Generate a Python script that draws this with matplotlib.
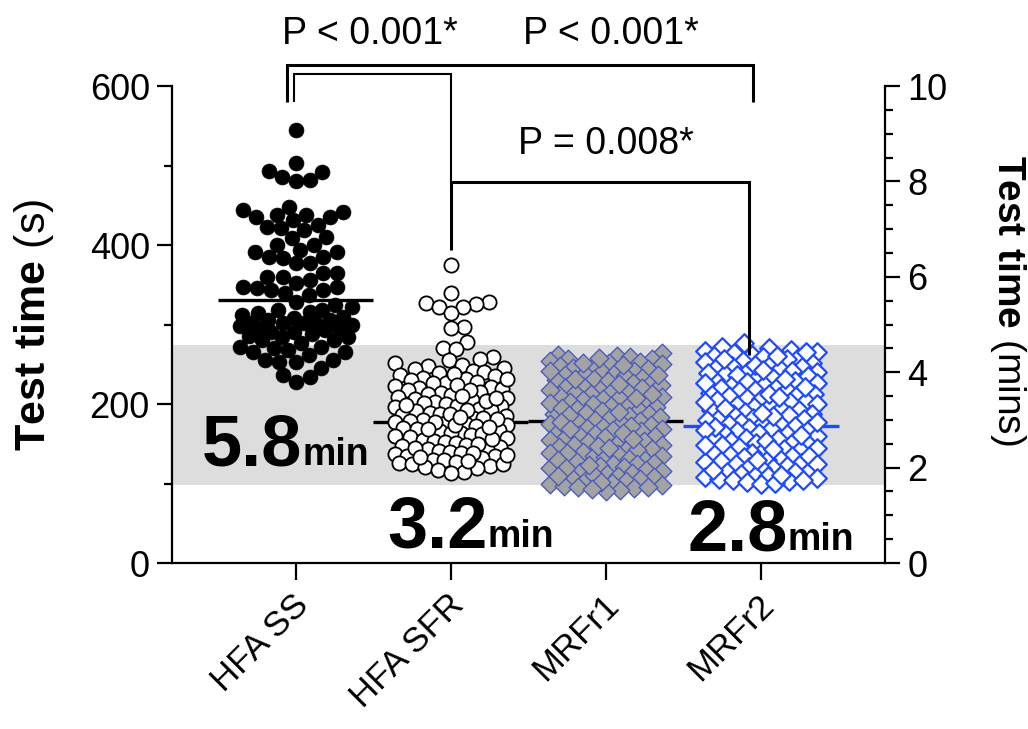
import numpy as np
import matplotlib.pyplot as plt
from matplotlib.transforms import ScaledTranslation

plt.rcParams['font.family'] = ['Liberation Sans', 'DejaVu Sans']
plt.rcParams['mathtext.fontset'] = 'custom'
plt.rcParams['mathtext.bf'] = 'Liberation Sans:bold'
plt.rcParams['mathtext.rm'] = 'Liberation Sans'

# Test times in seconds
GROUPS = ['HFA SS', 'HFA SFR', 'MRFr1', 'MRFr2']

HFA_SS = [545, 503, 493, 492, 486, 482, 480,
          448, 444, 442, 438, 438, 435, 435, 431, 425, 423, 421, 419, 410, 409, 400, 400,
          394, 391, 391, 385, 385, 384, 377, 377, 365, 365, 360, 360, 356, 352, 347, 347,
          346, 343, 343, 340, 337, 328, 325, 322, 318, 318, 316, 314, 312, 309, 308, 306,
          306, 302, 302, 302, 302, 300, 298, 296, 295, 293, 291, 291, 288, 286, 284, 284,
          281, 280, 277, 272, 272, 270, 268, 265, 265, 262, 255, 255, 253, 253, 245, 236,
          234, 228]

HFA_SFR = [375, 340, 328, 327, 326, 322, 322, 314, 297, 296, 278, 270, 269, 259, 256, 255,
           251, 249, 248, 245, 244, 242, 240, 239, 236, 235, 233, 232, 230, 228, 227, 226,
           223, 221, 220, 219, 217, 215, 214, 212, 211, 209, 207, 206, 205, 203, 201, 200,
           198, 197, 196, 194, 192, 191, 189, 188, 186, 185, 183, 182, 180, 179, 178, 176,
           175, 173, 172, 170, 169, 167, 166, 164, 163, 161, 160, 158, 157, 155, 154, 152,
           151, 149, 147, 146, 144, 143, 141, 140, 138, 137, 135, 134, 132, 130, 129, 127,
           126, 124, 122, 121, 119, 117, 115, 113,
           238, 231, 224, 218, 210, 204, 199, 193, 187, 181, 177, 174, 168, 162, 156, 150,
           145, 139, 133, 128, 125, 136, 171, 184, 208]

MRFR1 = [264, 262, 260, 259, 257, 256, 254, 253, 251, 250, 248, 246, 245, 244, 242, 240,
         239, 238, 236, 235, 233, 231, 230, 229, 227, 226, 224, 222, 221, 220, 218, 216,
         215, 214, 212, 211, 209, 207, 206, 205, 203, 202, 200, 198, 197, 196, 194, 193,
         191, 189, 188, 187, 185, 184, 182, 180, 179, 178, 176, 175, 173, 171, 170, 169,
         167, 166, 164, 162, 161, 160, 158, 157, 155, 153, 152, 151, 149, 148, 146, 144,
         143, 142, 140, 139, 137, 135, 134, 133, 131, 130, 128, 126, 125, 124, 122, 121,
         119, 117, 116, 115, 113, 112, 110, 108, 107, 106, 104, 103, 101, 99, 98, 97, 95,
         94, 92, 90,
         258, 249, 241, 232, 225, 217, 208, 201, 195, 186, 177, 172, 163, 156, 147, 138,
         129, 120, 111, 102, 96, 252, 237, 213, 190, 168, 145, 123, 109, 93]

MRFR2 = [277, 272, 270, 268, 267, 265, 264, 262, 260, 259, 258, 256, 254, 253, 252, 250,
         248, 247, 246, 244, 242, 241, 240, 238, 236, 235, 234, 232, 230, 229, 228, 226,
         224, 223, 222, 220, 218, 217, 216, 214, 212, 211, 210, 208, 206, 205, 204, 202,
         200, 199, 198, 196, 194, 193, 192, 190, 188, 187, 186, 184, 182, 181, 180, 178,
         176, 175, 174, 172, 170, 169, 168, 166, 164, 163, 162, 160, 158, 157, 156, 154,
         152, 151, 150, 148, 146, 145, 144, 142, 140, 139, 138, 136, 134, 133, 132, 130,
         128, 127, 126, 124, 122, 121, 120, 118, 116, 115, 114, 112, 110, 109, 108, 106,
         104, 103, 102, 100,
         266, 257, 249, 239, 231, 221, 213, 203, 195, 185, 177, 171, 161, 153, 143, 135,
         125, 117, 107, 101, 261, 243, 227, 209, 189, 167, 149, 129, 111, 105]

MEDIANS = [331, 177, 179, 172]
REFERENCE_BAND = (98, 274)
SUMMARY_MIN = ['5.8', '3.2', '2.8']
P_TEXTS = ['P < 0.001*', 'P < 0.001*', 'P = 0.008*']

BLUE = '#1f4bff'


def swarm(ax, center, values, diam, half_width):
    # greedy beeswarm in pixel space: closest free slot to the centre line
    pts = ax.transData.transform(np.column_stack([np.full(len(values), center), values]))
    cx = pts[0, 0]
    ys = pts[:, 1]
    steps = np.arange(1.0, half_width + 0.5, 1.0)
    cands = np.concatenate([[0.0], np.ravel(np.column_stack([steps, -steps]))])
    xs = np.zeros(len(values))
    px, py = [], []
    for i in np.argsort(ys, kind='stable'):
        if px:
            d = np.hypot(cands[:, None] - np.array(px)[None, :],
                         ys[i] - np.array(py)[None, :]).min(axis=1)
            ok = np.nonzero(d >= diam)[0]
            j = ok[0] if len(ok) else np.argmax(d)
        else:
            j = 0
        xs[i] = cands[j]
        px.append(cands[j])
        py.append(ys[i])
    return ax.transData.inverted().transform(np.column_stack([cx + xs, ys]))


fig = plt.figure(figsize=(10.28, 7.29), dpi=100)
ax = fig.add_axes([0.1673, 0.2277, 0.6936, 0.6543])
ax.set_xlim(-0.8, 3.8)
ax.set_ylim(0, 600)

ax.axhspan(REFERENCE_BAND[0], REFERENCE_BAND[1], color='#dddddd', lw=0, zorder=0)

styles = [
    dict(marker='o', s=115, facecolor='black', edgecolor='black', linewidths=0.5),
    dict(marker='o', s=105, facecolor='white', edgecolor='black', linewidths=1.3),
    dict(marker='D', s=90, facecolor='#a3a3a3', edgecolor='#4a5cc0', linewidths=1.0),
    dict(marker='D', s=90, facecolor='white', edgecolor=BLUE, linewidths=1.6),
]
diams = [14, 13, 14, 14]
line_colors = ['black', 'black', 'black', BLUE]

for i, vals in enumerate([HFA_SS, HFA_SFR, MRFR1, MRFR2]):
    ax.plot([i - 0.5, i + 0.5], [MEDIANS[i]] * 2, color=line_colors[i], lw=2.4, zorder=1,
            solid_capstyle='butt')
    xy = swarm(ax, i, vals, diams[i], 56)
    ax.scatter(xy[:, 0], xy[:, 1], zorder=2, **styles[i])

# significance brackets
kw = dict(color='black', clip_on=False, solid_capstyle='butt', solid_joinstyle='miter')
ax.plot([-0.06, -0.06, 2.95, 2.95], [580, 626, 626, 580], lw=2.2, **kw)
ax.plot([-0.01, -0.01, 1.0, 1.0], [580, 615, 615, 479], lw=1.5, **kw)
ax.plot([1.0, 1.0, 2.92, 2.92], [394, 479, 479, 262], lw=2.2, **kw)
ax.text(0.477, 665, P_TEXTS[0], ha='center', va='center', fontsize=27)
ax.text(2.03, 665, P_TEXTS[1], ha='center', va='center', fontsize=27)
ax.text(2.0, 527, P_TEXTS[2], ha='center', va='center', fontsize=27)

# summary values in minutes
for (x, y), txt in zip([(-0.606, 123), (0.587, 20), (2.523, 16)], SUMMARY_MIN):
    t = ax.text(x, y, txt, fontsize=52, fontweight='bold', ha='left', va='baseline')
    ax.annotate('min', xy=(1, y), xycoords=(t, 'data'), fontsize=27, fontweight='bold',
                ha='left', va='baseline')

# axes styling
for side in ['top', 'right']:
    ax.spines[side].set_visible(False)
for side in ['left', 'bottom']:
    ax.spines[side].set_linewidth(1.6)
ax.set_yticks([0, 200, 400, 600])
ax.set_yticks([100, 300, 500], minor=True)
ax.tick_params(axis='y', which='major', length=11, width=1.6, labelsize=26, pad=5)
ax.tick_params(axis='y', which='minor', length=6, width=1.6)
ax.set_xticks(range(4))
ax.set_xticklabels(GROUPS, rotation=45, ha='right', rotation_mode='anchor')
ax.tick_params(axis='x', length=12, width=1.6, labelsize=25, pad=6)
for lab in ax.get_xticklabels():
    lab.set_transform(lab.get_transform() + ScaledTranslation(-3 / 72, 0, fig.dpi_scale_trans))
ax.set_ylabel(r'$\bf{Test\ time}$ (s)', fontsize=31)
ax.yaxis.set_label_coords(-0.163, 0.5)

ax2 = ax.twinx()
ax2.set_ylim(0, 10)
for side in ['top', 'left', 'bottom']:
    ax2.spines[side].set_visible(False)
ax2.spines['right'].set_linewidth(1.6)
ax2.set_yticks([0, 2, 4, 6, 8, 10])
ax2.set_yticks(np.arange(0.5, 10, 0.5), minor=True)
ax2.tick_params(axis='y', which='major', length=11, width=1.6, labelsize=26, pad=5)
ax2.tick_params(axis='y', which='minor', length=6, width=1.6)
ax2.set_ylabel(r'$\bf{Test\ time}$ (mins)', fontsize=28, rotation=270, va='bottom')
ax2.yaxis.set_label_coords(1.144, 0.55)

fig.savefig('out.png', dpi=100)
